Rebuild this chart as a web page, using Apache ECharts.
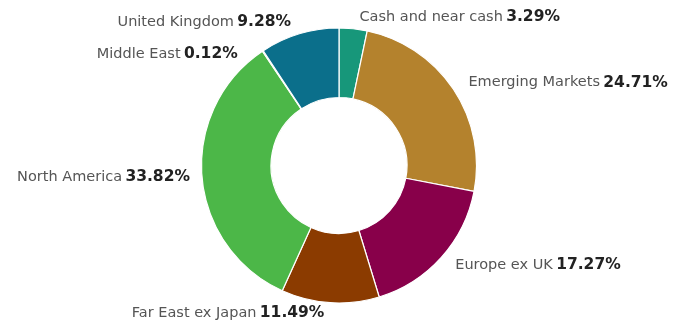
<!DOCTYPE html>
<html>
<head>
<meta charset="utf-8">
<style>
  html, body { margin: 0; padding: 0; background: #fff; }
  #chart { width: 678px; height: 329px; }
</style>
<script src="https://cdn.jsdelivr.net/npm/echarts@6/dist/echarts.min.js"></script>
</head>
<body>
<div id="chart"></div>
<script>
// Regional allocation, clockwise from 12 o'clock
const regions = ['Cash and near cash', 'Emerging Markets', 'Europe ex UK', 'Far East ex Japan', 'North America', 'Middle East', 'United Kingdom'];
const weights = [3.29, 24.71, 17.27, 11.49, 33.82, 0.12, 9.28];
const colours = ['#17977a', '#b4822d', '#88004a', '#8b3b00', '#4cb748', '#6cc04a', '#0b6f8b'];

const chart = echarts.init(document.getElementById('chart'));

chart.setOption({
  animation: false,
  series: [{
    type: 'pie',
    center: ['50%', '50.3%'],
    radius: [68, 137.5],
    startAngle: 90,
    clockwise: true,
    avoidLabelOverlap: true,
    itemStyle: { borderColor: '#ffffff', borderWidth: 1.2 },
    label: {
      show: true,
      position: 'outside',
      distance: 2,
      lineHeight: 30,
      formatter: p => '{n|' + p.name + '} {v|' + p.value.toFixed(2) + '%}',
      rich: {
        n: { fontFamily: 'DejaVu Sans', fontSize: 14.5, color: '#555555', lineHeight: 30 },
        v: { fontFamily: 'DejaVu Sans', fontSize: 15.5, fontWeight: 'bold', color: '#222222', lineHeight: 30 }
      }
    },
    labelLine: { show: false, length: 12, length2: 0 },
    emphasis: { disabled: true },
    data: regions.map((name, i) => ({
      name: name,
      value: weights[i],
      itemStyle: { color: colours[i] }
    }))
  }]
});
</script>
</body>
</html>
